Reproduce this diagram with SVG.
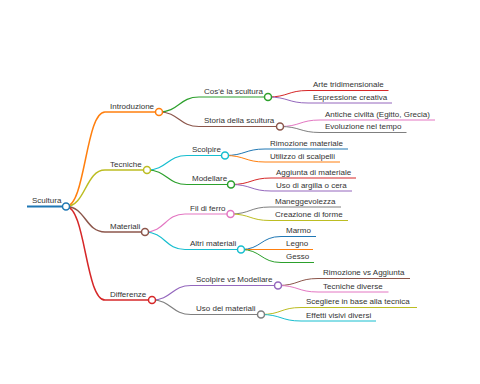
<svg xmlns="http://www.w3.org/2000/svg" width="480" height="384" viewBox="0 0 480 384">
<style>
text{font-family:"Liberation Sans",Arial,sans-serif;font-size:8px;fill:#333}
.l{fill:none}
.d0{stroke-width:2}
.d1{stroke-width:1.5}
.d2{stroke-width:1.2}
.d3{stroke-width:1}
circle{fill:#fff;stroke-width:1.5}
.c0{stroke:#1f77b4}.c1{stroke:#ff7f0e}.c2{stroke:#2ca02c}.c3{stroke:#d62728}.c4{stroke:#9467bd}
.c5{stroke:#8c564b}.c6{stroke:#e377c2}.c7{stroke:#7f7f7f}.c8{stroke:#bcbd22}.c9{stroke:#17becf}
</style>
<rect width="480" height="384" fill="#fff"/>
<g id="connectors" class="l">
<path class="d1 c1" d="M66,206.5 C85.5,206.5 85.5,112 105,112"/>
<path class="d1 c8" d="M66,206.5 C85.5,206.5 85.5,170 105,170"/>
<path class="d1 c5" d="M66,206.5 C85.5,206.5 85.5,232 105,232"/>
<path class="d1 c3" d="M66,206.5 C85.5,206.5 85.5,300 105,300"/>
<path class="d2 c2" d="M159,112 C179,112 179,97 199,97"/>
<path class="d2 c5" d="M159,112 C179,112 179,126.5 199,126.5"/>
<path class="d2 c9" d="M147,170 C167,170 167,155.5 187,155.5"/>
<path class="d2 c2" d="M147,170 C167,170 167,184.5 187,184.5"/>
<path class="d2 c6" d="M145,232 C165,232 165,214 185,214"/>
<path class="d2 c9" d="M145,232 C165,232 165,249.5 185,249.5"/>
<path class="d2 c4" d="M152,300 C171.5,300 171.5,285.5 191,285.5"/>
<path class="d2 c7" d="M152,300 C171.5,300 171.5,314.5 191,314.5"/>
<path class="d3 c3" d="M268,97 C288,97 288,90.5 308,90.5"/>
<path class="d3 c4" d="M268,97 C288,97 288,103 308,103"/>
<path class="d3 c6" d="M280,126.5 C300,126.5 300,120 320,120"/>
<path class="d3 c7" d="M280,126.5 C300,126.5 300,132.5 320,132.5"/>
<path class="d3 c0" d="M225,155.5 C245,155.5 245,149 265,149"/>
<path class="d3 c1" d="M225,155.5 C245,155.5 245,162 265,162"/>
<path class="d3 c3" d="M231,184.5 C251,184.5 251,178 271,178"/>
<path class="d3 c4" d="M231,184.5 C251,184.5 251,191 271,191"/>
<path class="d3 c7" d="M230.5,214 C250,214 250,207 270,207"/>
<path class="d3 c8" d="M230.5,214 C250,214 250,220.5 270,220.5"/>
<path class="d3 c0" d="M241,249.5 C261,249.5 261,236.5 281,236.5"/>
<path class="d3 c1" d="M241,249.5 L281,249.5"/>
<path class="d3 c2" d="M241,249.5 C261,249.5 261,262.5 281,262.5"/>
<path class="d3 c5" d="M278,285.5 C298,285.5 298,278.5 318,278.5"/>
<path class="d3 c6" d="M278,285.5 C298,285.5 298,292 318,292"/>
<path class="d3 c8" d="M261,314.5 C281,314.5 281,307.5 301,307.5"/>
<path class="d3 c9" d="M261,314.5 C281,314.5 281,321 301,321"/>
</g>
<g id="n-scultura"><line class="d0 c0" x1="27" y1="206.5" x2="66" y2="206.5"/><text x="32" y="203">Scultura</text><circle class="c0" cx="66" cy="206.5" r="3.5"/></g>
<g id="n-introduzione"><line class="d1 c1" x1="105" y1="112" x2="159" y2="112"/><text x="110" y="108.5">Introduzione</text><circle class="c1" cx="159" cy="112" r="3.5"/></g>
<g id="n-tecniche"><line class="d1 c8" x1="105" y1="170" x2="147" y2="170"/><text x="110" y="166.5">Tecniche</text><circle class="c8" cx="147" cy="170" r="3.5"/></g>
<g id="n-materiali"><line class="d1 c5" x1="105" y1="232" x2="145" y2="232"/><text x="110" y="228.5">Materiali</text><circle class="c5" cx="145" cy="232" r="3.5"/></g>
<g id="n-differenze"><line class="d1 c3" x1="105" y1="300" x2="152" y2="300"/><text x="110" y="296.5">Differenze</text><circle class="c3" cx="152" cy="300" r="3.5"/></g>
<g id="n-cose"><line class="d2 c2" x1="199" y1="97" x2="268" y2="97"/><text x="204" y="93.5">Cos'è la scultura</text><circle class="c2" cx="268" cy="97" r="3.5"/></g>
<g id="n-storia"><line class="d2 c5" x1="199" y1="126.5" x2="280" y2="126.5"/><text x="204" y="123">Storia della scultura</text><circle class="c5" cx="280" cy="126.5" r="3.5"/></g>
<g id="n-scolpire"><line class="d2 c9" x1="187" y1="155.5" x2="225" y2="155.5"/><text x="192" y="152">Scolpire</text><circle class="c9" cx="225" cy="155.5" r="3.5"/></g>
<g id="n-modellare"><line class="d2 c2" x1="187" y1="184.5" x2="231" y2="184.5"/><text x="192" y="181">Modellare</text><circle class="c2" cx="231" cy="184.5" r="3.5"/></g>
<g id="n-fil"><line class="d2 c6" x1="185" y1="214" x2="230.5" y2="214"/><text x="190" y="210.5">Fil di ferro</text><circle class="c6" cx="230.5" cy="214" r="3.5"/></g>
<g id="n-altri"><line class="d2 c9" x1="185" y1="249.5" x2="241" y2="249.5"/><text x="190" y="246">Altri materiali</text><circle class="c9" cx="241" cy="249.5" r="3.5"/></g>
<g id="n-svm"><line class="d2 c4" x1="191" y1="285.5" x2="278" y2="285.5"/><text x="196" y="282">Scolpire vs Modellare</text><circle class="c4" cx="278" cy="285.5" r="3.5"/></g>
<g id="n-uso"><line class="d2 c7" x1="191" y1="314.5" x2="261" y2="314.5"/><text x="196" y="311">Uso dei materiali</text><circle class="c7" cx="261" cy="314.5" r="3.5"/></g>
<g id="n-arte"><line class="d3 c3" x1="308" y1="90.5" x2="388.5" y2="90.5"/><text x="313" y="87">Arte tridimensionale</text></g>
<g id="n-espressione"><line class="d3 c4" x1="308" y1="103" x2="392" y2="103"/><text x="313" y="99.5">Espressione creativa</text></g>
<g id="n-antiche"><line class="d3 c6" x1="320" y1="120" x2="435" y2="120"/><text x="325" y="116.5">Antiche civiltà (Egitto, Grecia)</text></g>
<g id="n-evoluzione"><line class="d3 c7" x1="320" y1="132.5" x2="406.5" y2="132.5"/><text x="325" y="129">Evoluzione nel tempo</text></g>
<g id="n-rimozione"><line class="d3 c0" x1="265" y1="149" x2="348" y2="149"/><text x="270" y="145.5">Rimozione materiale</text></g>
<g id="n-utilizzo"><line class="d3 c1" x1="265" y1="162" x2="340" y2="162"/><text x="270" y="158.5">Utilizzo di scalpelli</text></g>
<g id="n-aggiunta"><line class="d3 c3" x1="271" y1="178" x2="356" y2="178"/><text x="276" y="174.5">Aggiunta di materiale</text></g>
<g id="n-argilla"><line class="d3 c4" x1="271" y1="191" x2="352" y2="191"/><text x="276" y="187.5">Uso di argilla o cera</text></g>
<g id="n-maneggevolezza"><line class="d3 c7" x1="270" y1="207" x2="341" y2="207"/><text x="275" y="203.5">Maneggevolezza</text></g>
<g id="n-creazione"><line class="d3 c8" x1="270" y1="220.5" x2="348" y2="220.5"/><text x="275" y="217">Creazione di forme</text></g>
<g id="n-marmo"><line class="d3 c0" x1="281" y1="236.5" x2="316" y2="236.5"/><text x="286" y="233">Marmo</text></g>
<g id="n-legno"><line class="d3 c1" x1="281" y1="249.5" x2="313" y2="249.5"/><text x="286" y="246">Legno</text></g>
<g id="n-gesso"><line class="d3 c2" x1="281" y1="262.5" x2="314" y2="262.5"/><text x="286" y="259">Gesso</text></g>
<g id="n-rva"><line class="d3 c5" x1="318" y1="278.5" x2="410" y2="278.5"/><text x="323" y="275">Rimozione vs Aggiunta</text></g>
<g id="n-tecdiv"><line class="d3 c6" x1="318" y1="292" x2="388.5" y2="292"/><text x="323" y="288.5">Tecniche diverse</text></g>
<g id="n-scegliere"><line class="d3 c8" x1="301" y1="307.5" x2="417" y2="307.5"/><text x="306" y="304">Scegliere in base alla tecnica</text></g>
<g id="n-effetti"><line class="d3 c9" x1="301" y1="321" x2="376" y2="321"/><text x="306" y="317.5">Effetti visivi diversi</text></g>
</svg>
